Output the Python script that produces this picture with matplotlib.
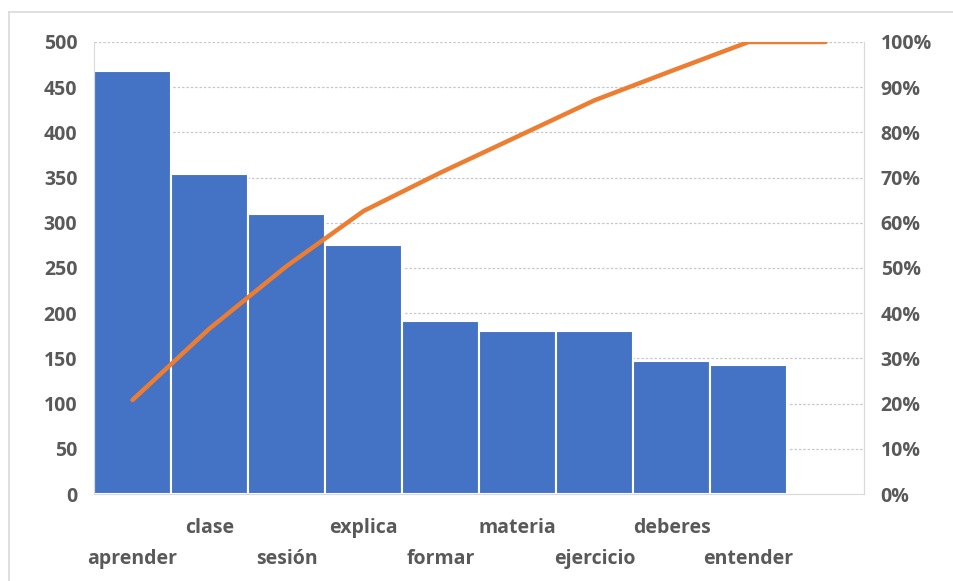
import matplotlib.pyplot as plt
import matplotlib.lines as mlines
import numpy as np

# Pareto data (10th slot is empty in the original chart)
categories = ["aprender", "clase", "sesión", "explica", "formar",
              "materia", "ejercicio", "deberes", "entender", ""]
counts = [468, 354, 310, 275, 191, 180, 180, 147, 143, 0]
cum_pct = [20.8, 36.6, 50.4, 62.6, 71.1, 79.1, 87.1, 93.6, 100.0, 100.0]

bar_color = "#4472C4"
line_color = "#ED7D31"
text_color = "#595959"
grid_color = "#C8C8C8"
fs = 14

plt.rcParams["font.family"] = ["Open Sans", "DejaVu Sans"]

fig = plt.figure(figsize=(9.54, 5.81), dpi=100)
ax = fig.add_axes([94 / 954, 1 - 494 / 581, 770 / 954, 452 / 581])
x = np.arange(len(categories))

ax.bar(x, counts, width=1.0, color=bar_color, edgecolor="white", linewidth=1.5, zorder=2)
ax.set_xlim(-0.5, len(categories) - 0.5)
ax.set_ylim(0, 500)
ax.set_yticks(np.arange(0, 501, 50))
ax.yaxis.grid(True, color=grid_color, linestyle=(0, (2, 1.5)), linewidth=0.9, zorder=0)
ax.set_axisbelow(True)
ax.tick_params(axis="y", length=0, pad=12, labelsize=fs, labelcolor=text_color)
for lab in ax.get_yticklabels():
    lab.set_fontweight("bold")
ax.set_xticks([])
ax.spines["top"].set_visible(False)
for side in ["left", "right", "bottom"]:
    ax.spines[side].set_color("#D9D9D9")

# staggered category labels
for i, c in enumerate(categories):
    ypos = -0.075 if i % 2 == 1 else -0.143
    ax.text(i, ypos, c, transform=ax.get_xaxis_transform(), ha="center", va="center",
            fontsize=fs, fontweight="bold", color=text_color)

ax2 = ax.twinx()
ax2.plot(x, np.array(cum_pct) / 100, color=line_color, linewidth=3.2,
         solid_capstyle="round", zorder=3)
ax2.set_ylim(0, 1)
ax2.set_yticks(np.arange(0, 1.01, 0.1))
ax2.set_yticklabels([f"{int(round(v * 100))}%" for v in np.arange(0, 1.01, 0.1)])
ax2.tick_params(axis="y", length=0, pad=12, labelsize=fs, labelcolor=text_color)
for lab in ax2.get_yticklabels():
    lab.set_fontweight("bold")
for side in ["top", "left", "bottom"]:
    ax2.spines[side].set_visible(False)
ax2.spines["right"].set_color("#D9D9D9")

# chart area border (left and top visible in the crop)
fig.add_artist(mlines.Line2D([9 / 954, 9 / 954], [0, 1 - 12 / 581], color="#D9D9D9", linewidth=1.2))
fig.add_artist(mlines.Line2D([9 / 954, 1], [1 - 12 / 581, 1 - 12 / 581], color="#D9D9D9", linewidth=1.2))

fig.savefig("out.png", dpi=100)
